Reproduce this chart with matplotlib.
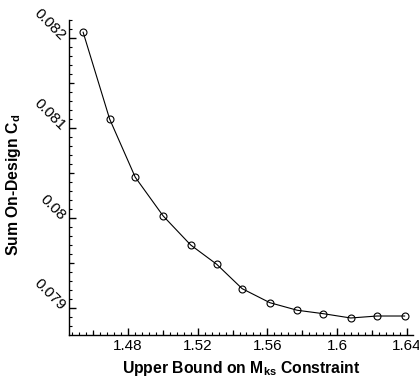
import matplotlib
matplotlib.use("Agg")
import matplotlib.pyplot as plt
from matplotlib.ticker import FixedLocator, FuncFormatter
import numpy as np

plt.rcParams['font.family'] = ['Liberation Sans', 'DejaVu Sans']
plt.rcParams['mathtext.fontset'] = 'custom'
plt.rcParams['mathtext.rm'] = 'Liberation Sans'
plt.rcParams['mathtext.bf'] = 'Liberation Sans:bold'
plt.rcParams['mathtext.it'] = 'Liberation Sans:italic'

# Data
mks_bound = [1.4543, 1.4695, 1.4842, 1.5002, 1.5160, 1.5309, 1.5455,
             1.5614, 1.5771, 1.5920, 1.6078, 1.6229, 1.6387]
cd_sum = [0.082067, 0.081103, 0.080456, 0.080026, 0.079703, 0.079489, 0.079218,
          0.079062, 0.078978, 0.078940, 0.078892, 0.078914, 0.078914]

x_major = [1.48, 1.52, 1.56, 1.60, 1.64]
y_major = [0.079, 0.080, 0.081, 0.082]

fig = plt.figure(figsize=(4.19, 3.80), dpi=100)
ax = fig.add_axes([69/419, 1-335/380, (413-69)/419, (335-20)/380])

ax.plot(mks_bound, cd_sum, color='black', lw=0.8, marker='o', ms=5.0,
        mfc='none', mec='black', mew=0.8)

ax.set_xlim(1.4462, 1.6435)
ax.set_ylim(0.078703, 0.082203)

for s in ['top', 'right']:
    ax.spines[s].set_visible(False)
for s in ['left', 'bottom']:
    ax.spines[s].set_linewidth(1.0)

fmt = FuncFormatter(lambda v, p: '%g' % round(v, 6))
ax.xaxis.set_major_locator(FixedLocator(x_major))
ax.yaxis.set_major_locator(FixedLocator(y_major))
ax.xaxis.set_major_formatter(fmt)
ax.yaxis.set_major_formatter(fmt)
ax.xaxis.set_minor_locator(FixedLocator(np.round(np.arange(1.44, 1.66, 0.004), 4)))
ax.yaxis.set_minor_locator(FixedLocator(np.round(np.arange(0.0786, 0.0823, 0.0001), 5)))

ax.tick_params(which='major', direction='in', length=5.0, width=1.0,
               labelsize=11, pad=3.2)
ax.tick_params(which='minor', direction='in', length=2.4, width=0.8)
ax.tick_params(axis='y', which='major', pad=4)

for lab in ax.get_yticklabels():
    lab.set_rotation(-45)
    lab.set_rotation_mode('anchor')
    lab.set_ha('right')
    lab.set_va('center')

# medium ticks
secx = ax.secondary_xaxis('bottom')
secx.set_xticks([v for v in np.round(np.arange(1.46, 1.66, 0.04), 3)])
secx.tick_params(direction='in', length=3.8, width=0.9, labelbottom=False)
secx.spines['bottom'].set_visible(False)
secy = ax.secondary_yaxis('left')
secy.set_yticks([v for v in np.round(np.arange(0.0785, 0.0823, 0.001), 5)])
secy.tick_params(direction='in', length=3.8, width=0.9, labelleft=False)
secy.spines['left'].set_visible(False)

ax.set_xlabel(r'Upper Bound on $\mathbf{M_{ks}}$ Constraint', fontsize=11.3,
              fontweight='bold')
ax.xaxis.set_label_coords(0.5, -0.075)
ax.set_ylabel(r'Sum On-Design $\mathbf{C_d}$', fontsize=11.3,
              fontweight='bold')
ax.yaxis.set_label_coords(-0.133, 0.476)

fig.savefig('out.png', dpi=100)
